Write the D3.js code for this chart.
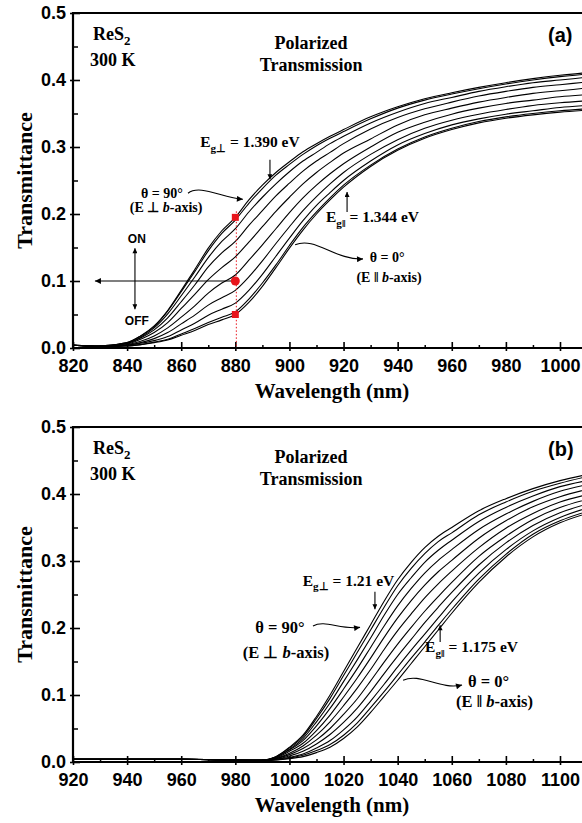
<!DOCTYPE html>
<html>
<head>
<meta charset="utf-8">
<script src="https://cdn.jsdelivr.net/npm/d3@7"></script>
<style>
body { margin: 0; background: #fff; }
svg { display: block; }
</style>
</head>
<body>
<script>
// ---- panel (a): wavelength grid and one curve per polarizer angle
var topWavelength = [820, 830, 840, 845, 850, 855, 860, 865, 870, 875, 880, 885, 890, 895, 900, 905, 910, 915, 920, 930, 940, 950, 960, 970, 980, 990, 1000, 1010];
var topDeg0  = [.004,.002,.003,.005,.008,.012,.019,.026,.035,.042,.050,.068,.092,.120,.149,.176,.200,.221,.240,.271,.295,.313,.326,.336,.343,.348,.352,.355];
var topDeg10 = [.004,.002,.003,.005,.009,.013,.021,.029,.038,.046,.054,.073,.097,.124,.153,.180,.203,.224,.243,.273,.297,.315,.328,.338,.345,.350,.354,.357];
var topDeg20 = [.004,.002,.004,.007,.011,.017,.027,.037,.049,.058,.067,.086,.110,.137,.164,.190,.213,.232,.250,.279,.303,.320,.333,.342,.349,.354,.359,.362];
var topDeg30 = [.004,.002,.004,.008,.014,.023,.036,.049,.064,.075,.086,.106,.130,.156,.181,.205,.226,.245,.262,.289,.311,.328,.340,.349,.356,.362,.366,.369];
var topDeg40 = [.004,.002,.005,.010,.018,.030,.046,.063,.082,.097,.109,.131,.154,.178,.202,.224,.243,.260,.275,.300,.322,.337,.349,.358,.365,.370,.375,.378];
var topDeg50 = [.004,.003,.006,.013,.023,.038,.059,.080,.102,.120,.136,.158,.181,.204,.225,.245,.262,.277,.291,.312,.333,.348,.358,.367,.374,.380,.384,.388];
var topDeg60 = [.004,.003,.007,.015,.027,.045,.069,.094,.121,.142,.159,.183,.205,.227,.246,.264,.279,.292,.305,.327,.344,.357,.367,.376,.383,.389,.393,.397];
var topDeg70 = [.004,.003,.007,.016,.030,.051,.078,.106,.135,.159,.178,.203,.225,.245,.263,.279,.292,.305,.316,.336,.352,.365,.374,.383,.390,.396,.400,.404];
var topDeg80 = [.004,.003,.008,.018,.032,.055,.084,.114,.145,.171,.191,.216,.238,.258,.274,.289,.302,.313,.323,.342,.358,.370,.379,.387,.394,.400,.405,.409];
var topDeg90 = [.004,.003,.008,.018,.033,.056,.086,.117,.149,.175,.195,.221,.243,.262,.278,.293,.305,.316,.326,.345,.360,.372,.381,.389,.396,.402,.407,.411];
var topCurves = [topDeg0, topDeg10, topDeg20, topDeg30, topDeg40, topDeg50, topDeg60, topDeg70, topDeg80, topDeg90];

// ---- panel (b)
var botWavelength = [920, 940, 960, 980, 990, 995, 1000, 1005, 1010, 1015, 1020, 1025, 1030, 1035, 1040, 1045, 1050, 1055, 1060, 1070, 1080, 1090, 1100, 1110];
var botC0  = [.004,.004,.004,.003,.002,.003,.005,.008,.014,.022,.035,.052,.074,.098,.122,.147,.172,.197,.222,.268,.306,.336,.357,.371];
var botC1  = [.004,.004,.004,.003,.002,.003,.006,.010,.017,.026,.040,.058,.081,.105,.130,.155,.179,.204,.228,.273,.310,.340,.360,.374];
var botC2  = [.004,.004,.004,.003,.002,.004,.007,.012,.021,.032,.048,.067,.091,.116,.142,.167,.191,.215,.239,.282,.317,.345,.365,.379];
var botC3  = [.004,.004,.004,.003,.002,.004,.009,.016,.027,.041,.059,.080,.105,.132,.158,.183,.208,.231,.253,.294,.327,.353,.372,.385];
var botC4  = [.004,.004,.004,.003,.002,.005,.011,.020,.033,.050,.071,.094,.121,.149,.176,.201,.225,.247,.268,.307,.337,.362,.380,.392];
var botC5  = [.004,.004,.004,.003,.002,.005,.013,.024,.040,.060,.084,.110,.138,.168,.196,.221,.245,.266,.285,.320,.349,.371,.388,.399];
var botC6  = [.004,.004,.004,.003,.003,.006,.016,.028,.047,.070,.097,.125,.155,.186,.215,.241,.264,.284,.301,.334,.360,.381,.396,.407];
var botC7  = [.004,.004,.004,.003,.003,.007,.018,.032,.054,.080,.109,.139,.171,.203,.233,.259,.282,.301,.317,.347,.370,.389,.404,.414];
var botC8  = [.004,.004,.004,.003,.003,.007,.019,.035,.060,.088,.120,.152,.185,.219,.250,.275,.298,.316,.331,.359,.380,.397,.411,.420];
var botC9  = [.004,.004,.004,.003,.003,.008,.021,.038,.065,.095,.129,.163,.197,.231,.263,.289,.311,.329,.342,.369,.388,.404,.416,.426];
var botC10 = [.004,.004,.004,.003,.003,.008,.022,.040,.068,.100,.135,.170,.205,.240,.272,.298,.320,.337,.350,.375,.393,.408,.420,.429];
var botCurves = [botC0, botC1, botC2, botC3, botC4, botC5, botC6, botC7, botC8, botC9, botC10];

// ---- ticks
var topXTicks = [820, 840, 860, 880, 900, 920, 940, 960, 980, 1000];
var topXMinor = [830, 850, 870, 890, 910, 930, 950, 970, 990, 1010];
var botXTicks = [920, 940, 960, 980, 1000, 1020, 1040, 1060, 1080, 1100];
var botXMinor = [930, 950, 970, 990, 1010, 1030, 1050, 1070, 1090, 1110];
var yTicks = [0, 0.1, 0.2, 0.3, 0.4, 0.5];
var yMinor = [0.05, 0.15, 0.25, 0.35, 0.45];

// markers on panel (a) at 880 nm
var markerWl = 880;
var markerT = [0.195, 0.05];
var markerMid = 0.1;

var SERIF = "'Liberation Serif', 'Times New Roman', serif";
var SANS = "'Liberation Sans', Arial, sans-serif";

var svg = d3.select("body").append("svg").attr("width", 582).attr("height", 823);
var defs = svg.append("defs");
defs.append("marker").attr("id", "ah").attr("viewBox", "0 0 10 10")
    .attr("refX", 10).attr("refY", 5).attr("markerUnits", "userSpaceOnUse")
    .attr("markerWidth", 9).attr("markerHeight", 6).attr("orient", "auto")
    .append("path").attr("d", "M0,0 L10,5 L0,10 z").attr("fill", "#000");
defs.append("marker").attr("id", "ahs").attr("viewBox", "0 0 10 10")
    .attr("refX", 10).attr("refY", 5).attr("markerUnits", "userSpaceOnUse")
    .attr("markerWidth", 7).attr("markerHeight", 5).attr("orient", "auto")
    .append("path").attr("d", "M0,0 L10,5 L0,10 z").attr("fill", "#000");

function rich(g, x, y, parts, size, anchor) {
    var t = g.append("text").attr("x", x).attr("y", y)
        .attr("text-anchor", anchor || "middle")
        .attr("font-family", SERIF).attr("font-weight", "bold")
        .attr("font-size", size);
    var shift = 0;
    parts.forEach(function(p) {
        var target = p.sub ? size * 0.3 : 0;
        var ts = t.append("tspan").text(p.t).attr("dy", target - shift);
        shift = target;
        if (p.sub) ts.attr("font-size", size * 0.72);
        if (p.it) ts.attr("font-style", "italic");
    });
    return t;
}

function drawPanel(p) {
    var x = d3.scaleLinear().domain(p.xDomain).range([73, 560]);
    var y = d3.scaleLinear().domain([0, 0.5]).range([p.bottom, p.top]);
    var g = svg.append("g");
    var clipId = "clip" + p.id;
    defs.append("clipPath").attr("id", clipId).append("rect")
        .attr("x", 73).attr("y", p.top).attr("width", 520).attr("height", p.bottom - p.top);

    var line = d3.line()
        .x(function(d, i) { return x(p.wl[i]); })
        .y(function(d) { return y(d); })
        .curve(d3.curveMonotoneX);

    g.append("g").attr("clip-path", "url(#" + clipId + ")")
        .selectAll("path").data(p.curves).join("path")
        .attr("d", line).attr("fill", "none")
        .attr("stroke", "#000").attr("stroke-width", 1.1);

    // minor ticks
    g.append("g").attr("transform", "translate(0," + p.bottom + ")")
        .call(d3.axisBottom(x).tickValues(p.xMinor).tickSizeInner(-3).tickSizeOuter(0).tickFormat(function() { return ""; }))
        .call(function(a) { a.select(".domain").remove(); a.selectAll(".tick line").attr("y1", 1).attr("stroke-width", 1.5); });
    g.append("g").attr("transform", "translate(73,0)")
        .call(d3.axisLeft(y).tickValues(yMinor).tickSizeInner(-5).tickSizeOuter(0).tickFormat(function() { return ""; }))
        .call(function(a) { a.select(".domain").remove(); a.selectAll(".tick line").attr("stroke-width", 1.5); });

    // major ticks + labels
    var xa = g.append("g").attr("transform", "translate(0," + p.bottom + ")")
        .call(d3.axisBottom(x).tickValues(p.xTicks).tickSizeInner(-6).tickSizeOuter(0).tickPadding(11).tickFormat(d3.format("d")));
    xa.select(".domain").remove();
    xa.selectAll(".tick line").attr("y1", 3).attr("stroke-width", 1.6);
    xa.selectAll(".tick text").attr("font-family", SANS).attr("font-weight", "bold")
        .attr("font-size", 18).attr("fill", "#000");

    var ya = g.append("g").attr("transform", "translate(73,0)")
        .call(d3.axisLeft(y).tickValues(yTicks).tickSizeInner(-7).tickSizeOuter(0).tickPadding(7).tickFormat(d3.format(".1f")));
    ya.select(".domain").remove();
    ya.selectAll(".tick line").attr("x1", -3).attr("stroke-width", 1.6);
    ya.selectAll(".tick text").attr("font-family", SANS).attr("font-weight", "bold")
        .attr("font-size", 18).attr("fill", "#000");

    // frame lines
    g.append("line").attr("x1", 72).attr("x2", 582).attr("y1", p.bottom).attr("y2", p.bottom)
        .attr("stroke", "#000").attr("stroke-width", 2.2);
    g.append("line").attr("x1", 72).attr("x2", 582).attr("y1", p.top).attr("y2", p.top)
        .attr("stroke", "#000").attr("stroke-width", 2.2);
    g.append("line").attr("x1", 73).attr("x2", 73).attr("y1", p.top - 1).attr("y2", p.bottom + 1)
        .attr("stroke", "#000").attr("stroke-width", 2.2);

    // axis titles
    g.append("text").attr("x", 332).attr("y", p.bottom + 50).attr("text-anchor", "middle")
        .attr("font-family", SERIF).attr("font-weight", "bold").attr("font-size", 21)
        .text("Wavelength (nm)");
    g.append("text").attr("transform", "translate(32," + ((p.top + p.bottom) / 2) + ") rotate(-90)")
        .attr("text-anchor", "middle")
        .attr("font-family", SERIF).attr("font-weight", "bold").attr("font-size", 22)
        .text("Transmittance");

    // panel letter
    g.append("text").attr("x", 548).attr("y", p.top + 29)
        .attr("font-family", SANS).attr("font-weight", "bold").attr("font-size", 20)
        .text(p.letter);

    // sample labels
    var x0 = p.xDomain[0];
    rich(g, x(x0 + 7.4), y(0.460), [{t: "ReS"}, {t: "2", sub: true}], 18, "start");
    rich(g, x(x0 + 6.3), y(0.421), [{t: "300 K"}], 18, "start");
    rich(g, x(x0 + 88), y(0.446), [{t: "Polarized"}], 18, "middle");
    rich(g, x(x0 + 88), y(0.413), [{t: "Transmission"}], 18, "middle");

    p.annotate(g, x, y);
}

function arrowPath(g, x, y, pts, marker) {
    var path = d3.path();
    path.moveTo(x(pts[0][0]), y(pts[0][1]));
    if (pts.length === 4) {
        path.bezierCurveTo(x(pts[1][0]), y(pts[1][1]), x(pts[2][0]), y(pts[2][1]), x(pts[3][0]), y(pts[3][1]));
    } else {
        path.lineTo(x(pts[1][0]), y(pts[1][1]));
    }
    g.append("path").attr("d", path.toString()).attr("fill", "none")
        .attr("stroke", "#000").attr("stroke-width", 1.1)
        .attr("marker-end", "url(#" + marker + ")");
}

drawPanel({
    id: "a", letter: "(a)", top: 13, bottom: 348,
    xDomain: [820, 1000], xTicks: topXTicks, xMinor: topXMinor,
    wl: topWavelength, curves: topCurves,
    annotate: function(g, x, y) {
        rich(g, x(885.4), y(0.300), [{t: "E"}, {t: "g\u22A5", sub: true}, {t: " = 1.390 eV"}], 15.5);
        arrowPath(g, x, y, [[892.8, 0.281], [892.8, 0.252]], "ahs");
        rich(g, x(852.9), y(0.224), [{t: "\u03B8 = 90\u00B0"}], 14);
        rich(g, x(854.4), y(0.203), [{t: "(E \u22A5 "}, {t: "b", it: true}, {t: "-axis)"}], 14);
        arrowPath(g, x, y, [[862.5, 0.231], [866.9, 0.245], [875.1, 0.224], [882.8, 0.222]], "ah");
        rich(g, x(930.7), y(0.188), [{t: "E"}, {t: "g\u2016", sub: true}, {t: " = 1.344 eV"}], 15.5);
        arrowPath(g, x, y, [[921.3, 0.203], [921.3, 0.233]], "ahs");
        rich(g, x(936.1), y(0.128), [{t: "\u03B8 = 0\u00B0"}], 14);
        rich(g, x(936.8), y(0.099), [{t: "(E \u2016 "}, {t: "b", it: true}, {t: "-axis)"}], 14);
        arrowPath(g, x, y, [[902.1, 0.154], [909.4, 0.167], [916.8, 0.131], [927.2, 0.133]], "ah");

        // 880 nm probe
        g.append("line").attr("x1", x(markerWl) + 1).attr("x2", x(markerWl) + 1)
            .attr("y1", y(markerT[0]) - 6).attr("y2", y(0))
            .attr("stroke", "#e8141b").attr("stroke-width", 1).attr("stroke-dasharray", "1.5,2");
        arrowPath(g, x, y, [[markerWl, markerMid], [828.1, markerMid]], "ah");
        arrowPath(g, x, y, [[842.9, markerMid], [842.9, 0.149]], "ahs");
        arrowPath(g, x, y, [[842.9, markerMid], [842.9, 0.058]], "ahs");
        g.append("text").attr("x", x(843.6)).attr("y", y(0.157)).attr("text-anchor", "middle")
            .attr("font-family", SANS).attr("font-weight", "bold").attr("font-size", 12).text("ON");
        g.append("text").attr("x", x(843.6)).attr("y", y(0.034)).attr("text-anchor", "middle")
            .attr("font-family", SANS).attr("font-weight", "bold").attr("font-size", 12).text("OFF");
        g.selectAll("rect.mk").data(markerT).join("rect").attr("class", "mk")
            .attr("x", function() { return x(markerWl) - 3.5; })
            .attr("y", function(d) { return y(d) - 3.5; })
            .attr("width", 7).attr("height", 7).attr("fill", "#e8141b");
        g.append("circle").attr("cx", x(markerWl)).attr("cy", y(markerMid)).attr("r", 4.5).attr("fill", "#e8141b");
    }
});

drawPanel({
    id: "b", letter: "(b)", top: 427, bottom: 762,
    xDomain: [920, 1100], xTicks: botXTicks, xMinor: botXMinor,
    wl: botWavelength, curves: botCurves,
    annotate: function(g, x, y) {
        rich(g, x(1021.8), y(0.263), [{t: "E"}, {t: "g\u22A5", sub: true}, {t: " = 1.21 eV"}], 15.5);
        arrowPath(g, x, y, [[1031.6, 0.254], [1031.6, 0.228]], "ahs");
        rich(g, x(996.5), y(0.193), [{t: "\u03B8 = 90\u00B0"}], 16.5);
        rich(g, x(998.7), y(0.155), [{t: "(E \u22A5 "}, {t: "b", it: true}, {t: "-axis)"}], 16.5);
        arrowPath(g, x, y, [[1008.7, 0.203], [1013.1, 0.213], [1018.7, 0.197], [1026.1, 0.201]], "ah");
        rich(g, x(1067.3), y(0.164), [{t: "E"}, {t: "g\u2016", sub: true}, {t: " = 1.175 eV"}], 15.5);
        arrowPath(g, x, y, [[1055.7, 0.179], [1055.7, 0.204]], "ahs");
        rich(g, x(1073.6), y(0.112), [{t: "\u03B8 = 0\u00B0"}], 16.5);
        rich(g, x(1075.8), y(0.082), [{t: "(E \u2016 "}, {t: "b", it: true}, {t: "-axis)"}], 16.5);
        arrowPath(g, x, y, [[1042.0, 0.122], [1048.3, 0.134], [1055.6, 0.107], [1063.8, 0.115]], "ah");
    }
});
</script>
</body>
</html>
